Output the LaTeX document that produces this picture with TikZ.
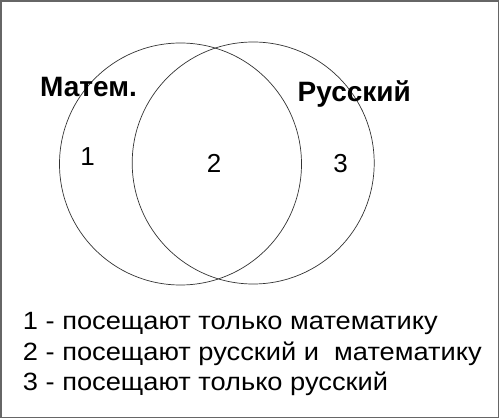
\documentclass[tikz,border=0pt]{standalone}
\usepackage{fontspec}
\setmainfont{Liberation Sans}
\tikzset{
  ring/.style={circle, draw=black!80, line width=0.7pt, minimum size=242pt, inner sep=0pt},
  setname/.style={anchor=base west, inner sep=0pt, font=\fontsize{28}{32}\selectfont\bfseries},
  part/.style={anchor=base, inner sep=0pt, font=\fontsize{26}{30}\selectfont},
  legend/.style={anchor=base west, inner sep=0pt, transform shape, xscale=1.09, font=\fontsize{25}{30}\selectfont}
}
\begin{document}
\begin{tikzpicture}[x=1pt,y=-1pt]
\useasboundingbox (0,0) rectangle (500,419);
\draw[black!60, line width=1.5pt] (1,1) rectangle (498.5,417.5);
\node[ring] (mat) at (180.5,164) {};
\node[ring] (rus) at (253.2,163) {};
\node[setname] (matname) at (40,96.5) {Матем.};
\node[setname] (rusname) at (297.5,101.5) {Русский};
\node[part] (1) at (87.5,165.7) {1};
\node[part] (2) at (214,172.3) {2};
\node[part] (3) at (340.5,172.5) {3};
\node[legend] (l1) at (22.7,329.8) {1 - посещают только математику};
\node[legend] (l2) at (22.7,360.3) {2 - посещают русский и \ математику};
\node[legend] (l3) at (22.7,390.5) {3 - посещают только русский};
\end{tikzpicture}
\end{document}
